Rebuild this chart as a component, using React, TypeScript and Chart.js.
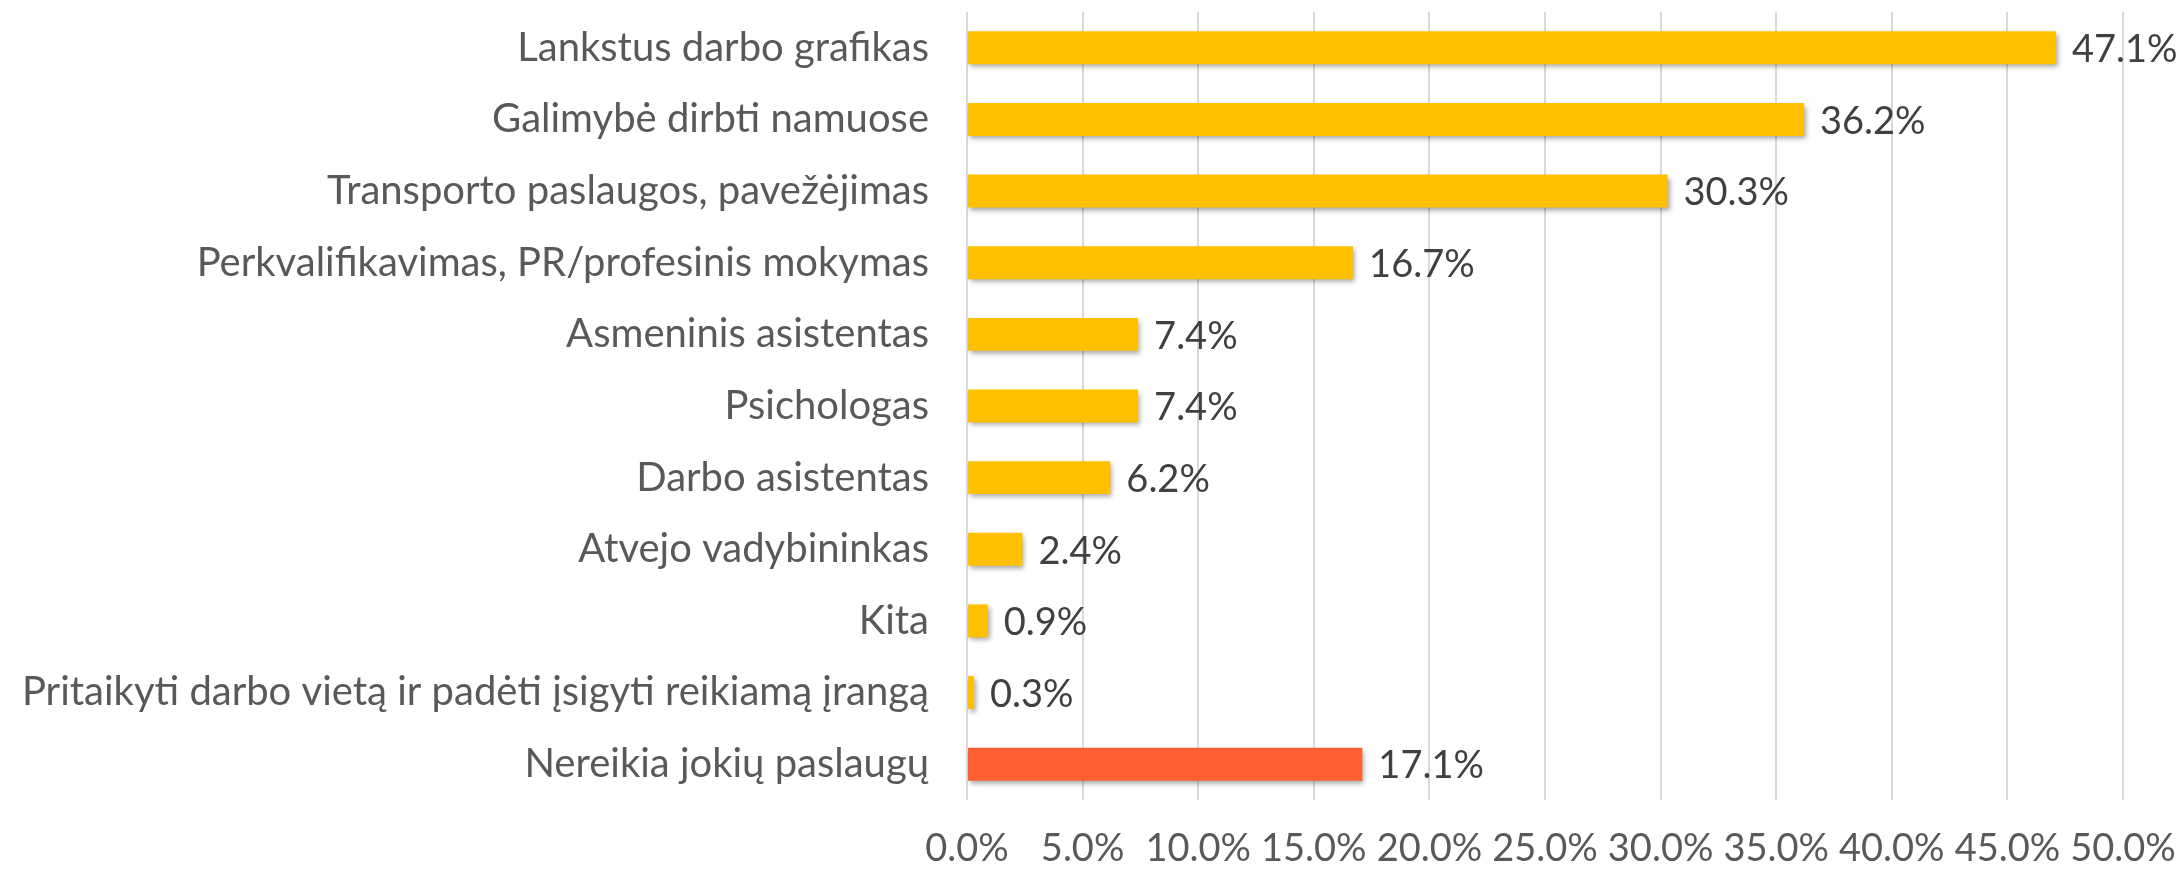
import React, { useEffect, useRef } from "react";
import { Chart, registerables } from "chart.js";

Chart.register(...registerables);

const categories: string[] = [
  "Lankstus darbo grafikas",
  "Galimybė dirbti namuose",
  "Transporto paslaugos, pavežėjimas",
  "Perkvalifikavimas, PR/profesinis mokymas",
  "Asmeninis asistentas",
  "Psichologas",
  "Darbo asistentas",
  "Atvejo vadybininkas",
  "Kita",
  "Pritaikyti darbo vietą ir padėti įsigyti reikiamą įrangą",
  "Nereikia jokių paslaugų",
];

const values: number[] = [47.1, 36.2, 30.3, 16.7, 7.4, 7.4, 6.2, 2.4, 0.9, 0.3, 17.1];

const barColors: string[] = [
  "#FFC000", "#FFC000", "#FFC000", "#FFC000", "#FFC000", "#FFC000",
  "#FFC000", "#FFC000", "#FFC000", "#FFC000", "#FF5F33",
];

const xMin = 0;
const xMax = 50;
const xStep = 5;

const FONT = "Lato, 'Open Sans', sans-serif";

const shadowPlugin = {
  id: "barShadow",
  beforeDatasetsDraw(chart: any) {
    const ctx = chart.ctx;
    ctx.save();
    ctx.shadowColor = "rgba(0,0,0,0.35)";
    ctx.shadowBlur = 5;
    ctx.shadowOffsetX = 2;
    ctx.shadowOffsetY = 3;
  },
  afterDatasetsDraw(chart: any) {
    chart.ctx.restore();
  },
};

const labelPlugin = {
  id: "valueLabels",
  afterDatasetsDraw(chart: any) {
    const ctx = chart.ctx;
    const meta = chart.getDatasetMeta(0);
    ctx.save();
    ctx.font = `38px ${FONT}`;
    ctx.fillStyle = "#404040";
    ctx.textAlign = "left";
    ctx.textBaseline = "middle";
    meta.data.forEach((bar: any, i: number) => {
      const v = chart.data.datasets[0].data[i] as number;
      ctx.fillText(v.toFixed(1) + "%", bar.x + 16, bar.y + 2);
    });
    ctx.restore();
  },
};

export default function App() {
  const canvasRef = useRef<HTMLCanvasElement>(null);

  useEffect(() => {
    if (!canvasRef.current) return;
    const chart = new Chart(canvasRef.current, {
      type: "bar",
      data: {
        labels: categories,
        datasets: [
          {
            data: values,
            backgroundColor: barColors,
            borderWidth: 0,
            barPercentage: 0.46,
            categoryPercentage: 1,
          },
        ],
      },
      options: {
        indexAxis: "y",
        animation: false,
        responsive: true,
        maintainAspectRatio: false,
        layout: { padding: { top: 12, right: 60, bottom: 0, left: 0 } },
        plugins: {
          legend: { display: false },
          tooltip: { enabled: false },
        },
        scales: {
          x: {
            min: xMin,
            max: xMax,
            ticks: {
              stepSize: xStep,
              padding: 26,
              color: "#595959",
              font: { family: FONT, size: 38 },
              callback: (v: any) => Number(v).toFixed(1) + "%",
              maxRotation: 0,
              autoSkip: false,
            },
            grid: { color: "#D9D9D9", lineWidth: 2, drawTicks: false },
            border: { display: false },
            afterFit: (scale: any) => {
              scale.height = 72;
              scale.paddingLeft = 0;
              scale.paddingRight = 0;
            },
          },
          y: {
            ticks: {
              padding: 38,
              color: "#595959",
              font: { family: FONT, size: 40 },
              autoSkip: false,
            },
            grid: { display: false, drawTicks: false },
            border: { display: false },
            afterFit: (scale: any) => {
              scale.width = 967;
              scale.paddingTop = 0;
              scale.paddingBottom = 0;
            },
          },
        },
      },
      plugins: [shadowPlugin, labelPlugin],
    });
    return () => chart.destroy();
  }, []);

  return (
    <div style={{ position: "fixed", left: 0, top: 0, width: 2183, height: 872, background: "#fff" }}>
      <canvas ref={canvasRef} />
    </div>
  );
}
